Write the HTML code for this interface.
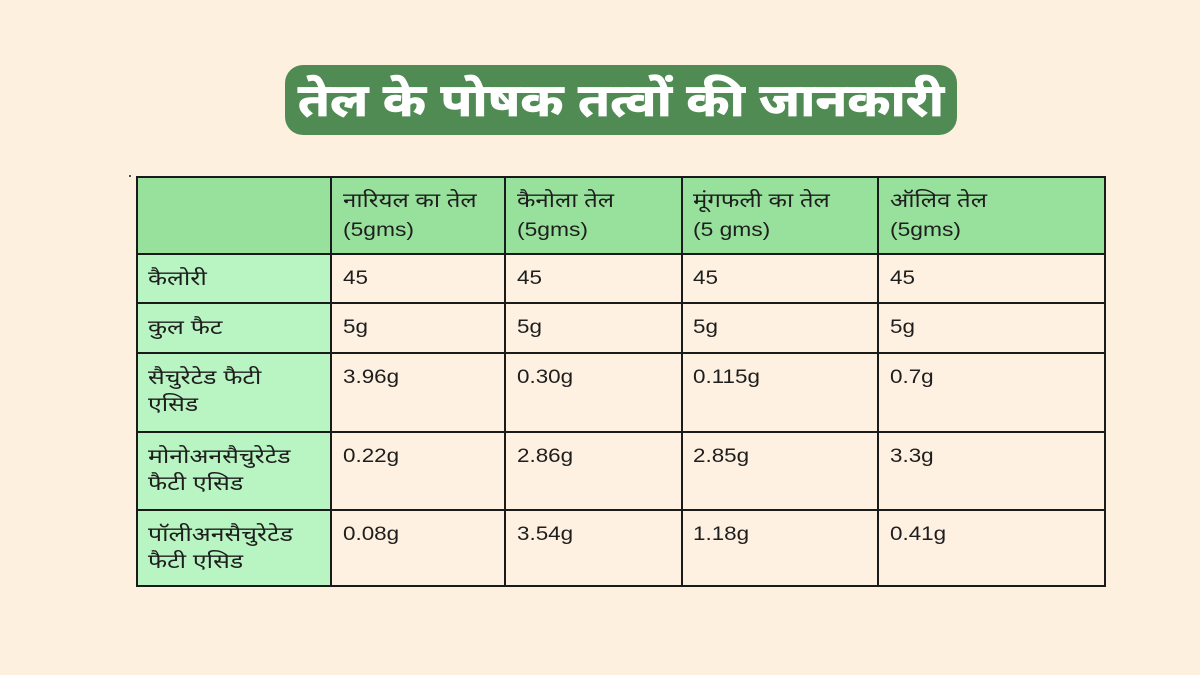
<!DOCTYPE html>
<html>
<head>
<meta charset="utf-8">
<style>
  html,body{margin:0;padding:0;}
  body{width:1200px;height:675px;background:#fdf0df;position:relative;overflow:hidden;
    font-family:"Liberation Sans","Noto Sans Devanagari","Lohit Devanagari","FreeSans",Arial,sans-serif;color:#1e1e1e;}
  .title{position:absolute;left:285px;top:65px;width:672px;height:70px;background:#4f8b52;border-radius:18px;
    color:#fff;font-weight:bold;font-size:46px;line-height:70px;text-align:center;white-space:nowrap;}
  .title span{display:inline-block;transform:scaleX(1.13);-webkit-text-stroke:0.8px #fff;}
  .cell{position:absolute;box-sizing:border-box;}
  .hl{position:absolute;height:2px;background:#1a1a1a;left:136px;width:970px;}
  .vl{position:absolute;width:2px;background:#1a1a1a;top:176px;height:411px;}
  .t{position:absolute;font-size:19px;line-height:28px;white-space:nowrap;transform:scaleX(1.18);transform-origin:0 0;}
  .h{font-size:20px;transform:scaleX(1.2);}
  .hd{line-height:29px;}
  .lb{font-size:20px;line-height:27px;transform:scaleX(1.24);}
</style>
</head>
<body>
<div class="title"><span>तेल के पोषक तत्वों की जानकारी</span></div>

<!-- backgrounds -->
<div class="cell" style="left:137px;top:177px;width:968px;height:77px;background:#98e19c;"></div>
<div class="cell" style="left:137px;top:254px;width:194px;height:332px;background:#b9f5c2;"></div>
<div class="cell" style="left:331px;top:254px;width:774px;height:332px;background:#fef1e1;"></div>

<!-- grid lines -->
<div class="hl" style="top:176px;"></div>
<div class="hl" style="top:253px;"></div>
<div class="hl" style="top:302px;"></div>
<div class="hl" style="top:352px;"></div>
<div class="hl" style="top:431px;"></div>
<div class="hl" style="top:509px;"></div>
<div class="hl" style="top:585px;"></div>
<div class="vl" style="left:136px;"></div>
<div class="vl" style="left:330px;"></div>
<div class="vl" style="left:504px;"></div>
<div class="vl" style="left:681px;"></div>
<div class="vl" style="left:877px;"></div>
<div class="vl" style="left:1104px;"></div>
<div style="position:absolute;left:129px;top:175px;width:2px;height:2px;background:#555;"></div>

<!-- header -->
<div class="t h hd" style="left:343px;top:187px;">नारियल का तेल<br><span style="font-size:19px">(5gms)</span></div>
<div class="t h hd" style="left:517px;top:187px;">कैनोला तेल<br><span style="font-size:19px">(5gms)</span></div>
<div class="t h hd" style="left:693px;top:187px;">मूंगफली का तेल<br><span style="font-size:19px">(5 gms)</span></div>
<div class="t h hd" style="left:890px;top:187px;">ऑलिव तेल<br><span style="font-size:19px">(5gms)</span></div>

<!-- row labels -->
<div class="t lb" style="left:148px;top:266px;">कैलोरी</div>
<div class="t lb" style="left:148px;top:315px;">कुल फैट</div>
<div class="t lb" style="left:148px;top:365px;">सैचुरेटेड फैटी<br>एसिड</div>
<div class="t lb" style="left:148px;top:444px;">मोनोअनसैचुरेटेड<br>फैटी एसिड</div>
<div class="t lb" style="left:148px;top:522px;">पॉलीअनसैचुरेटेड<br>फैटी एसिड</div>

<!-- row 1 -->
<div class="t" style="left:343px;top:265px;">45</div>
<div class="t" style="left:517px;top:265px;">45</div>
<div class="t" style="left:693px;top:265px;">45</div>
<div class="t" style="left:890px;top:265px;">45</div>
<!-- row 2 -->
<div class="t" style="left:343px;top:314px;">5g</div>
<div class="t" style="left:517px;top:314px;">5g</div>
<div class="t" style="left:693px;top:314px;">5g</div>
<div class="t" style="left:890px;top:314px;">5g</div>
<!-- row 3 -->
<div class="t" style="left:343px;top:364px;">3.96g</div>
<div class="t" style="left:517px;top:364px;">0.30g</div>
<div class="t" style="left:693px;top:364px;">0.115g</div>
<div class="t" style="left:890px;top:364px;">0.7g</div>
<!-- row 4 -->
<div class="t" style="left:343px;top:443px;">0.22g</div>
<div class="t" style="left:517px;top:443px;">2.86g</div>
<div class="t" style="left:693px;top:443px;">2.85g</div>
<div class="t" style="left:890px;top:443px;">3.3g</div>
<!-- row 5 -->
<div class="t" style="left:343px;top:521px;">0.08g</div>
<div class="t" style="left:517px;top:521px;">3.54g</div>
<div class="t" style="left:693px;top:521px;">1.18g</div>
<div class="t" style="left:890px;top:521px;">0.41g</div>
</body>
</html>
